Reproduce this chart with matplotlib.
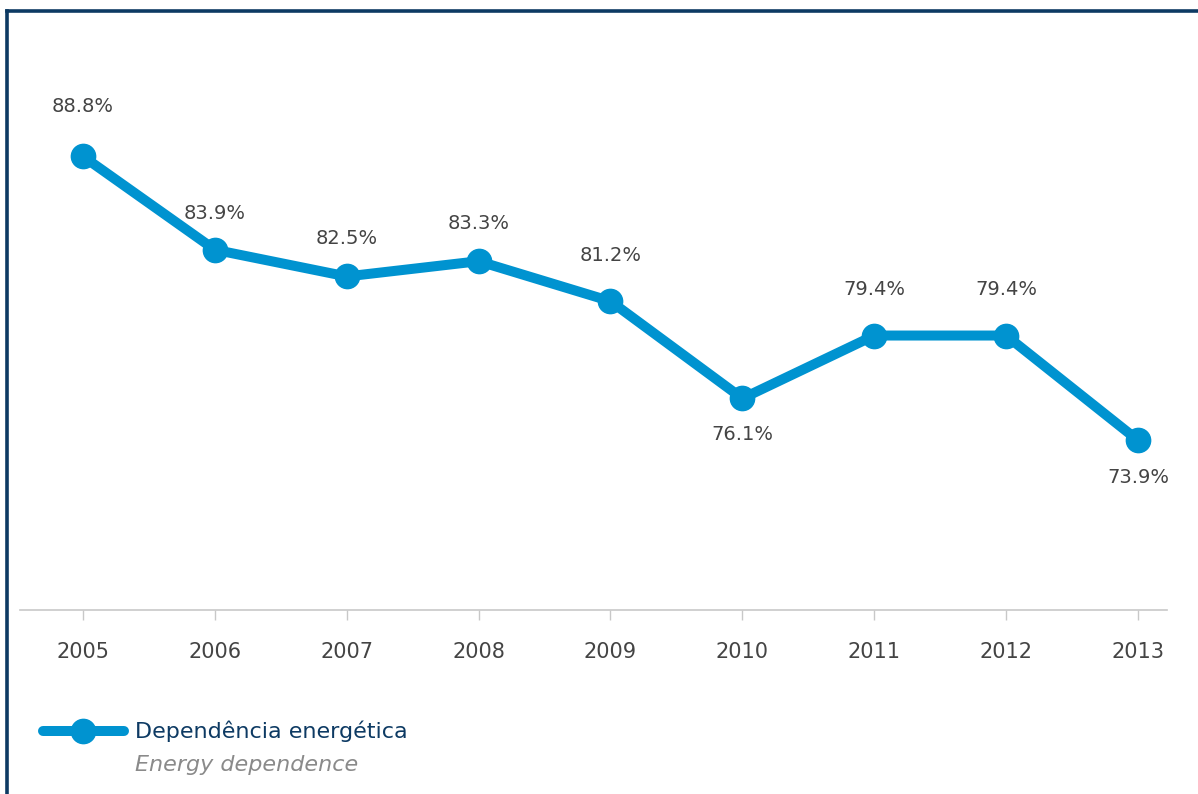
import matplotlib.pyplot as plt
from matplotlib.lines import Line2D

years = [2005, 2006, 2007, 2008, 2009, 2010, 2011, 2012, 2013]
dependence = [88.8, 83.9, 82.5, 83.3, 81.2, 76.1, 79.4, 79.4, 73.9]
label_pt = "Dependência energética"
label_en = "Energy dependence"

# label offsets in points (styling only)
label_dy = [36, 26, 27, 27, 33, -26, 33, 33, -27]

blue = '#0093d0'
navy = '#0d3a63'
grey_txt = '#444444'

W, H = 1198, 794
fig = plt.figure(figsize=(W / 100, H / 100), dpi=100)
plt.rcParams['font.family'] = ['DejaVu Sans']

# axes placed in pixel space: x line from 20 to 1167, baseline at y=610
ax = fig.add_axes([20 / W, (H - 610) / H, (1167 - 20) / W, (610 - 38) / H])
ax.plot(years, dependence, color=blue, lw=7.2, marker='o', ms=17.5,
        solid_capstyle='round', solid_joinstyle='round', zorder=3)
for x, y, dy in zip(years, dependence, label_dy):
    ax.annotate('%.1f%%' % y, (x, y), xytext=(0, dy), textcoords='offset points',
                ha='center', va='center', fontsize=14, color=grey_txt)

ax.set_xlim(2005 - 63 / 131.9, 2013 + 29 / 131.9)
ax.set_ylim(65, 65 + 572 / 19.06)
ax.set_xticks(years)
ax.set_xticklabels([str(y) for y in years], fontsize=15, color=grey_txt)
ax.tick_params(axis='x', length=7, width=1, color='#c8c8c8', pad=16)
ax.set_yticks([])
for s in ['top', 'right', 'left']:
    ax.spines[s].set_visible(False)
ax.spines['bottom'].set_color('#c8c8c8')
ax.spines['bottom'].set_linewidth(1.2)

# frame lines (top and left only visible)
fig.add_artist(Line2D([6.5 / W, 1.0], [1 - 11 / H, 1 - 11 / H], color=navy, lw=2.6,
                      transform=fig.transFigure))
fig.add_artist(Line2D([6.5 / W, 6.5 / W], [0, 1 - 11 / H], color=navy, lw=2.6,
                      transform=fig.transFigure))

# legend
fig.add_artist(Line2D([43 / W, 124 / W], [1 - 731 / H, 1 - 731 / H], color=blue, lw=7.2,
                      solid_capstyle='round', transform=fig.transFigure))
fig.add_artist(Line2D([83 / W], [1 - 731 / H], color=blue, marker='o', ms=17.5, lw=0,
                      transform=fig.transFigure))
fig.text(135 / W, 1 - 731 / H, label_pt, fontsize=16, color=navy, va='center', ha='left')
fig.text(135 / W, 1 - 765 / H, label_en, fontsize=16, color='#8a8a8a', style='italic',
         va='center', ha='left')

fig.savefig('out.png', dpi=100)
